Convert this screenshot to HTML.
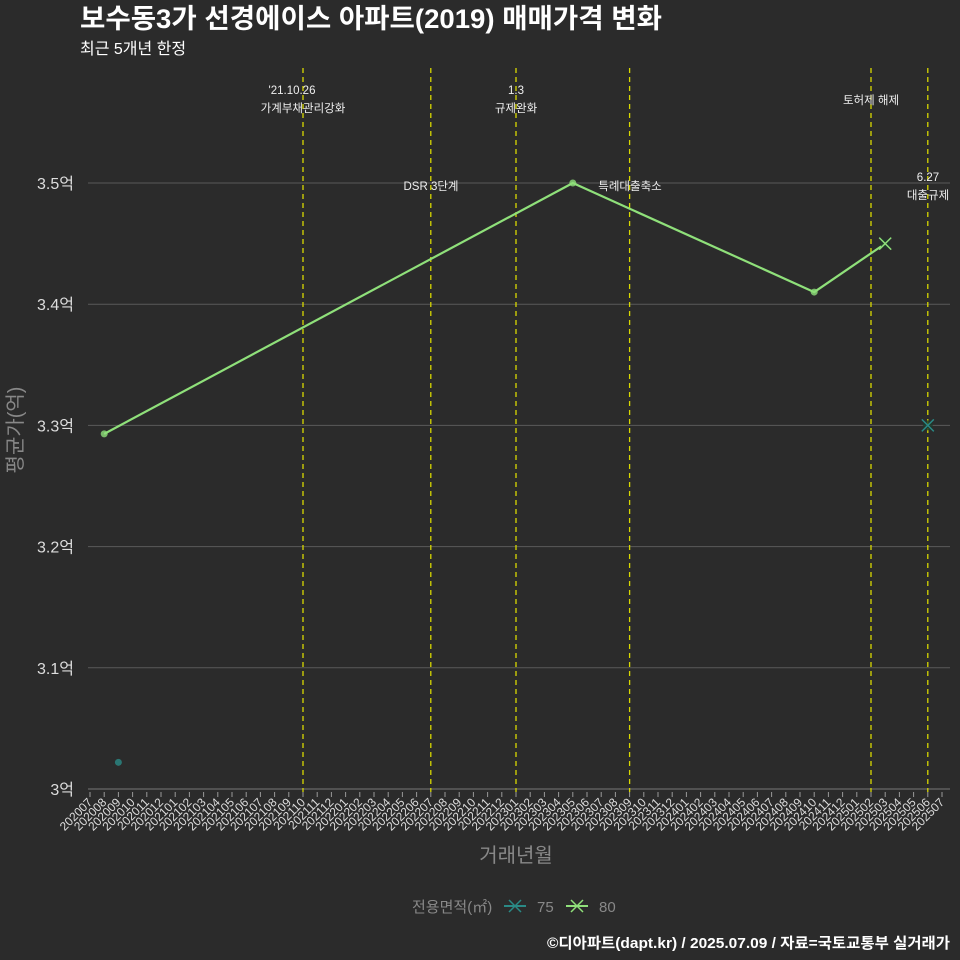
<!DOCTYPE html>
<html><head><meta charset="utf-8"><style>
html,body{margin:0;padding:0;background:#2b2b2b;}
svg{display:block;font-family:"Liberation Sans","Noto Sans CJK KR",sans-serif;}
</style></head><body>
<svg id="c" width="960" height="960" viewBox="0 0 960 960" xmlns="http://www.w3.org/2000/svg">
<rect width="960" height="960" fill="#2b2b2b"/>
<text x="80" y="28" font-size="27" font-weight="bold" fill="#ffffff" textLength="582" lengthAdjust="spacingAndGlyphs">보수동3가 선경에이스 아파트(2019) 매매가격 변화</text>
<text x="80" y="54" font-size="16" fill="#ffffff">최근 5개년 한정</text>
<g id="grid"></g><g id="vlines"></g><g id="xaxis"></g><g id="yaxis"></g><g id="series"></g><g id="annos"></g>
<text transform="translate(22,430) rotate(-90)" text-anchor="middle" font-size="20" fill="#888">평균가(억)</text>
<text x="516" y="862" text-anchor="middle" font-size="20" fill="#888">거래년월</text>
<g>
<text x="412" y="912" font-size="15" fill="#888">전용면적(㎡)</text>
<g><line x1="504" y1="906" x2="526" y2="906" stroke="#2a8a86" stroke-width="2"/><path d="M509 900 L521 912 M521 900 L509 912" stroke="#2a8a86" stroke-width="1.5"/><text x="537" y="912" font-size="15" fill="#888">75</text></g>
<g><line x1="566" y1="906" x2="588" y2="906" stroke="#8fe07a" stroke-width="2"/><path d="M571 900 L583 912 M583 900 L571 912" stroke="#8fe07a" stroke-width="1.5"/><text x="599" y="912" font-size="15" fill="#888">80</text></g>
</g>
<text x="950" y="948" text-anchor="end" font-size="15" font-weight="bold" fill="#ffffff" textLength="403" lengthAdjust="spacingAndGlyphs">©디아파트(dapt.kr) / 2025.07.09 / 자료=국토교통부 실거래가</text>
</svg>
<script>
const months=[];for(let y=2020;y<=2025;y++)for(let m=1;m<=12;m++){const k=y*100+m;if(k>=202007&&k<=202507)months.push(String(k));}
const yTicks=[3.0,3.1,3.2,3.3,3.4,3.5];
const yLabels=["3억","3.1억","3.2억","3.3억","3.4억","3.5억"];
const s80Months=["202008","202305","202410","202503"];
const s80Values=[3.293,3.5,3.41,3.45];
const s75Months=["202009","202506"];
const s75Values=[3.022,3.3];
const eventMonths=["202110","202207","202301","202309","202502","202506"];
const NS="http://www.w3.org/2000/svg";
function X(m){return 90+months.indexOf(m)*14.2;}
function Y(v){return 789-(v-3)*1212;}
function el(t,a,p){const e=document.createElementNS(NS,t);for(const k in a)e.setAttribute(k,a[k]);p.appendChild(e);return e;}
const g=id=>document.getElementById(id);
yTicks.forEach((v,i)=>{
 const l=el('line',{x1:88,x2:950,y1:Y(v),y2:Y(v),stroke:i==0?'#777':'#5a5a5a','stroke-width':1},g('grid'));
 
 
 const t=el('text',{x:74,y:Y(v)+6,'text-anchor':'end','font-size':16,fill:'#ddd'},g('yaxis'));
 t.textContent=yLabels[i];
 
 
});
months.forEach(m=>{
 const x=X(m);
 const tk=el('line',{x1:x,x2:x,y1:792,y2:797,stroke:'#999'},g('xaxis'));
 
 
 const t=el('text',{x:x+3,y:803,'text-anchor':'end','font-size':12,fill:'#ddd',transform:`rotate(-45 ${x+3} 803)`},g('xaxis'));
 t.textContent=m;
 
 
});
eventMonths.forEach(m=>{
 const l=el('line',{x1:X(m),x2:X(m),y1:68,y2:792,stroke:'#d8d800','stroke-width':1.3,'stroke-dasharray':'5,4'},g('vlines'));
 
 
});
const annos=[["'21.10.26",292,94],["가계부채관리강화",303,112],["1.3",516,94],["규제완화",516,112],["DSR 3단계",431,190],["특례대출축소",630,190],["토허제 해제",871,104],["6.27",928,181],["대출규제",928,199]];
annos.forEach(a=>{
 const t=el('text',{x:a[1],y:a[2],'text-anchor':'middle','font-size':11.5,fill:'#eee'},g('annos'));
 t.textContent=a[0];
 
 
});
function series(ms,vs,col,name,lastX){
 const sg=el('g',{},g('series'));
 
 
 if(ms.length>1 && name==='series-80'){
  const p=el('polyline',{points:ms.map((m,i)=>X(m)+','+Y(vs[i])).join(' '),fill:'none',stroke:col,'stroke-width':2.2},sg);
  
  
 }
 ms.forEach((m,i)=>{
  const x=X(m),y=Y(vs[i]);
  if(i==ms.length-1&&lastX){
   const b=el('circle',{cx:x,cy:y,r:5,fill:'#1e3a2a',opacity:0.8},sg);
   
   
   const p=el('path',{d:`M${x-6} ${y-6}L${x+6} ${y+6}M${x+6} ${y-6}L${x-6} ${y+6}`,stroke:col,'stroke-width':1.5},sg);
   
   
  } else {
   const c=el('circle',{cx:x,cy:y,r:3.5,fill:col,opacity:0.8},sg);
   
   
  }
 });
}
series(s75Months,s75Values,'#2a8a86','series-75',true);
series(s80Months,s80Values,'#8fe07a','series-80',true);
</script>
</body></html>
